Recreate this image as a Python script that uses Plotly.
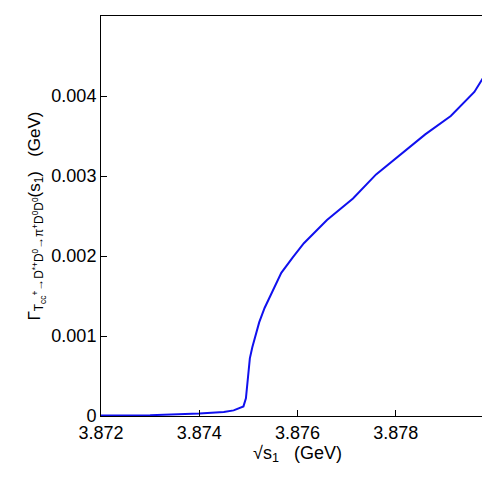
import plotly.graph_objects as go

sqrt_s1 = [3.872, 3.873, 3.874, 3.8745, 3.8747, 3.8749, 3.87495, 3.87498, 3.87503, 3.87508, 3.87513, 3.87522, 3.87533, 3.8755, 3.87567, 3.8759, 3.87613, 3.8766, 3.87713, 3.8776, 3.87813, 3.8786, 3.87912, 3.8796, 3.88]
gamma = [0.000005, 0.00001, 0.00003, 0.00005, 0.00007, 0.00012, 0.00022, 0.0004, 0.00072, 0.00086, 0.00097, 0.00117, 0.00135, 0.00158, 0.00179, 0.00198, 0.00216, 0.00245, 0.00272, 0.00302, 0.00329, 0.00352, 0.00375, 0.00405, 0.00445]

fig = go.Figure(go.Scatter(x=sqrt_s1, y=gamma, mode="lines", line=dict(color="#1010ee", width=2)))
ax = dict(showgrid=False, zeroline=False, showline=True, mirror=True, linecolor="black", linewidth=1,
          ticks="inside", ticklen=6, tickcolor="black", tickfont=dict(family="Liberation Sans", size=18, color="black"))
fig.update_xaxes(**ax, range=[3.872, 3.88], tickvals=[3.872, 3.874, 3.876, 3.878, 3.88],
                 ticktext=["3.872", "3.874", "3.876", "3.878", "3.88"],
                 title=dict(text="√s<sub>1</sub>   (GeV)", font=dict(family="Liberation Sans", size=18, color="black"), standoff=4))
fig.update_yaxes(**ax, range=[0, 0.005], tickvals=[0, 0.001, 0.002, 0.003, 0.004, 0.005],
                 ticktext=["0", "0.001", "0.002", "0.003", "0.004", "0.005"],
                 title=dict(text="Γ<sub>T<sub>cc</sub><sup>+</sup>→D<sup>*+</sup>D<sup>0</sup>→π<sup>+</sup>D<sup>0</sup>D<sup>0</sup></sub>(s<sub>1</sub>)   (GeV)",
                            font=dict(family="Liberation Sans", size=17, color="black"), standoff=6))
fig.update_layout(width=490, height=490, margin=dict(l=93, r=4, t=8, b=82), plot_bgcolor="white", paper_bgcolor="white", showlegend=False)
fig.write_html("out.html")
